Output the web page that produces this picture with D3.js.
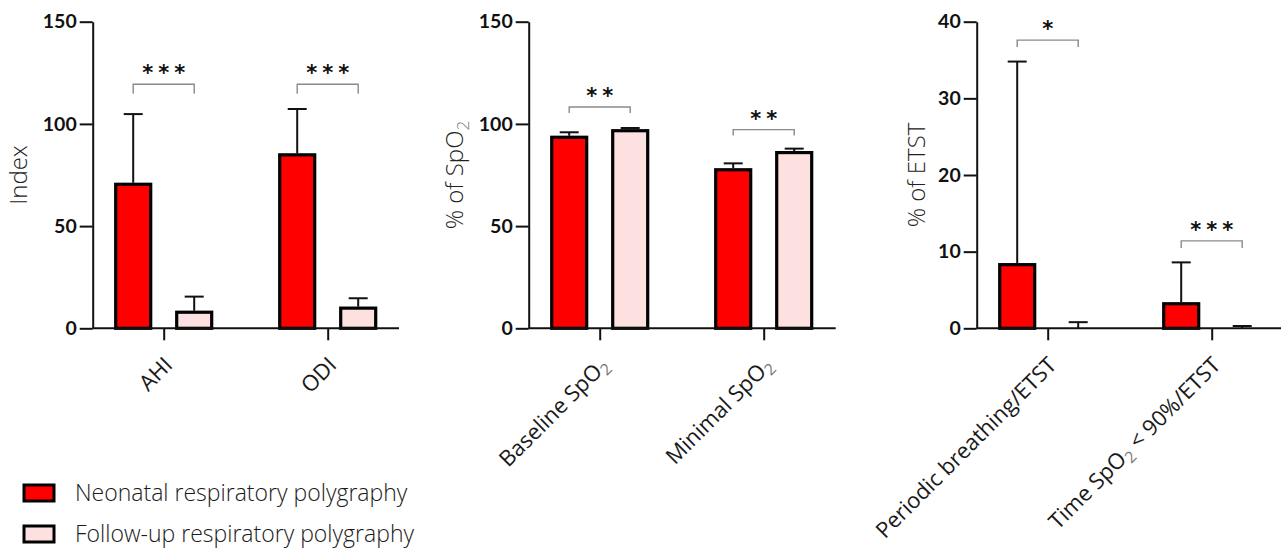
<!DOCTYPE html>
<html>
<head>
<meta charset="utf-8">
<script src="https://cdn.jsdelivr.net/npm/d3@7"></script>
<style>
  body { margin: 0; background: #fff; }
  svg { display: block; font-family: "Open Sans", Lato, sans-serif; }
</style>
</head>
<body>
<div id="chart"></div>
<script>
// ---- data (means and SD) ----
var groupsA = ["AHI", "ODI"];
var neoA = [71.2, 85.6];
var neoSdA = [33.6, 21.7];
var folA = [8.6, 10.6];
var folSdA = [6.9, 4.1];
var starsA = ["***", "***"];
var bracketA = [119.4, 119.4];
var ticksA = [0, 50, 100, 150];

var groupsB = ["Baseline Sp|O|2", "Minimal Sp|O|2"];
var neoB = [94.2, 78.3];
var neoSdB = [1.7, 2.4];
var folB = [97.4, 86.7];
var folSdB = [0.6, 1.2];
var starsB = ["**", "**"];
var bracketB = [108.3, 97.2];
var ticksB = [0, 50, 100, 150];

var groupsC = ["Periodic breathing/ETST", "Time Sp|O|2| < 90%/ETST"];
var neoC = [8.5, 3.4];
var neoSdC = [26.3, 5.2];
var folC = [0, 0];
var folSdC = [0.8, 0.3];
var starsC = ["*", "***"];
var bracketC = [37.6, 11.4];
var ticksC = [0, 10, 20, 30, 40];

var seriesNames = ["Neonatal respiratory polygraphy", "Follow-up respiratory polygraphy"];
var seriesColors = ["#ff0000", "#fde0e0"];

var w = 1282, h = 548;
var plotTop = 21.7, plotBottom = 328.3;

var svg = d3.select("#chart").append("svg")
    .attr("width", w)
    .attr("height", h);

// label strings use "|" to split segments; a segment "2" after "O" becomes subscript
function writeLabel(sel, label) {
    var parts = label.split("|");
    var shifted = false;
    parts.forEach(function(p, i) {
        var t = sel.append("tspan").text(p);
        if (p === "2" && parts[i - 1] === "O") {
            t.attr("dy", "0.3em").attr("font-size", "0.72em").attr("fill", "#777");
            shifted = true;
        } else if (shifted) {
            t.attr("dy", "-0.216em");
            shifted = false;
        }
    });
}

function panel(opt) {
    var g = svg.append("g");

    var yscale = d3.scaleLinear()
        .domain([0, opt.max])
        .range([plotBottom, plotTop]);

    var xscale = d3.scalePoint()
        .domain(opt.groups)
        .range([opt.x0 + 71, opt.x0 + 235]);

    var off = [-30.5, 30.5];
    var barW = 35;

    var rows = opt.groups.map(function(gname, i) {
        return { g: gname, vals: [opt.neo[i], opt.fol[i]], sds: [opt.neoSd[i], opt.folSd[i]],
                 stars: opt.stars[i], br: opt.bracket[i] };
    });

    // error bars first (under bars)
    rows.forEach(function(r) {
        [0, 1].forEach(function(s) {
            var cx = xscale(r.g) + off[s];
            var y1 = yscale(r.vals[s]);
            var y2 = yscale(r.vals[s] + r.sds[s]);
            g.append("line")
                .attr("x1", cx).attr("x2", cx)
                .attr("y1", y1).attr("y2", y2)
                .attr("stroke", "#111").attr("stroke-width", 2);
            g.append("line")
                .attr("x1", cx - 9.5).attr("x2", cx + 9.5)
                .attr("y1", y2).attr("y2", y2)
                .attr("stroke", "#111").attr("stroke-width", 2);
        });
    });

    // bars
    rows.forEach(function(r) {
        [0, 1].forEach(function(s) {
            var hgt = plotBottom - yscale(r.vals[s]);
            if (hgt < 2) return;
            g.append("rect")
                .attr("x", xscale(r.g) + off[s] - barW / 2)
                .attr("y", yscale(r.vals[s]) + 1.5)
                .attr("width", barW)
                .attr("height", hgt - 1.5)
                .attr("fill", seriesColors[s])
                .attr("stroke", "#000")
                .attr("stroke-width", 3.2);
        });
    });

    // significance brackets
    rows.forEach(function(r) {
        var xa = xscale(r.g) + off[0], xb = xscale(r.g) + off[1];
        var yb = yscale(r.br);
        var leg = opt.leg;
        g.append("path")
            .attr("d", "M" + xa + "," + (yb + leg) + "V" + yb + "H" + xb + "V" + (yb + leg))
            .attr("fill", "none")
            .attr("stroke", "#8a8a8a")
            .attr("stroke-width", 1.4);
        var n = r.stars.length;
        for (var k = 0; k < n; k++) {
            g.append("text")
                .attr("x", xscale(r.g) + (k - (n - 1) / 2) * 16)
                .attr("y", yb - 4)
                .attr("text-anchor", "middle")
                .attr("font-family", "DejaVu Sans")
                .attr("font-weight", "bold")
                .attr("font-size", 21)
                .attr("fill", "#111")
                .text("*");
        }
    });

    // axes
    var yaxis = d3.axisLeft(yscale).tickValues(opt.ticks).tickSize(13).tickSizeOuter(0).tickPadding(3);
    var ya = g.append("g")
        .attr("transform", "translate(" + opt.x0 + ",0)")
        .call(yaxis);
    ya.select(".domain").attr("stroke", "#111").attr("stroke-width", 2);
    ya.selectAll(".tick line").attr("stroke", "#111").attr("stroke-width", 2);
    ya.selectAll(".tick text")
        .attr("font-family", "Lato, sans-serif")
        .attr("font-size", 19.5)
        .attr("font-weight", "bold")
        .attr("fill", "#111");

    var xaxis = d3.axisBottom(xscale).tickSize(12).tickSizeOuter(0).tickFormat("");
    var xa = g.append("g")
        .attr("transform", "translate(0," + plotBottom + ")")
        .call(xaxis);
    xa.select(".domain").attr("d", "M" + opt.x0 + ",0H" + opt.x1).attr("stroke", "#111").attr("stroke-width", 2);
    xa.selectAll(".tick line").attr("stroke", "#111").attr("stroke-width", 2);

    opt.groups.forEach(function(gname) {
        var t = g.append("text")
            .attr("transform", "translate(" + (xscale(gname) - 1) + "," + (plotBottom + 27) + ") rotate(-45)")
            .attr("text-anchor", "end")
            .attr("dy", "0.72em")
            .attr("font-size", 22)
            .attr("fill", "#1a1a1a");
        writeLabel(t, gname);
    });

    var title = g.append("text")
        .attr("transform", "translate(" + opt.tx + "," + ((plotTop + plotBottom) / 2) + ") rotate(-90)")
        .attr("text-anchor", "middle")
        .attr("dy", "0.35em")
        .attr("font-size", 24)
        .attr("font-weight", 300)
        .attr("fill", "#222");
    writeLabel(title, opt.title);
}

panel({ groups: groupsA, neo: neoA, neoSd: neoSdA, fol: folA, folSd: folSdA, stars: starsA,
        bracket: bracketA, ticks: ticksA, max: 150, x0: 92.7, x1: 399, tx: 19, leg: 9.5, title: "Index" });
panel({ groups: groupsB, neo: neoB, neoSd: neoSdB, fol: folB, folSd: folSdB, stars: starsB,
        bracket: bracketB, ticks: ticksB, max: 150, x0: 528.7, x1: 835.7, tx: 455, leg: 6, title: "% of Sp|O|2" });
panel({ groups: groupsC, neo: neoC, neoSd: neoSdC, fol: folC, folSd: folSdC, stars: starsC,
        bracket: bracketC, ticks: ticksC, max: 40, x0: 976.7, x1: 1281, tx: 917, leg: 7, title: "% of ETST" });

// legend
var legend = svg.append("g").attr("transform", "translate(24,485)");
seriesNames.forEach(function(name, i) {
    var row = legend.append("g").attr("transform", "translate(0," + (i * 41) + ")");
    row.append("rect")
        .attr("x", 0).attr("y", 0)
        .attr("width", 30).attr("height", 16)
        .attr("fill", seriesColors[i])
        .attr("stroke", "#000")
        .attr("stroke-width", 3);
    row.append("text")
        .attr("x", 51).attr("y", 16)
        .attr("font-size", 23)
        .attr("font-weight", 300)
        .attr("fill", "#1a1a1a")
        .text(name);
});
</script>
</body>
</html>
